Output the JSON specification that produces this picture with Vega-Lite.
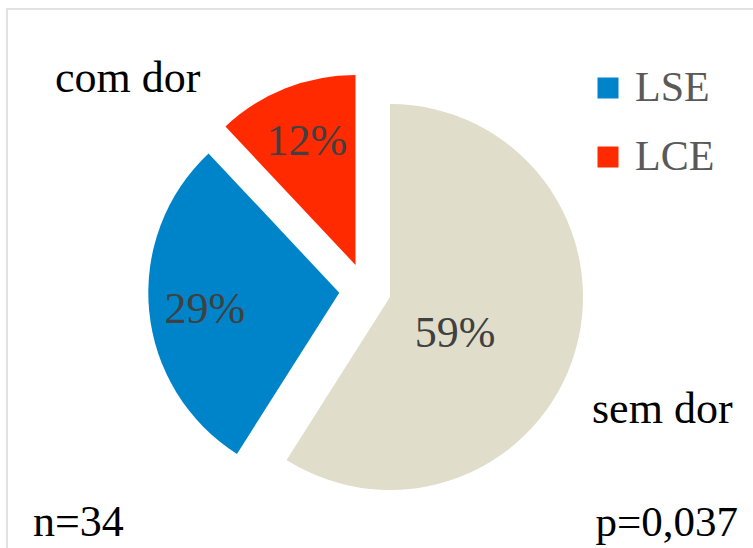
{
  "$schema": "https://vega.github.io/schema/vega-lite/v6.json",
  "width": 766,
  "height": 576,
  "autosize": {"type": "none"},
  "padding": {"left": 7, "top": 9, "right": 0, "bottom": 0},
  "background": "white",
  "view": {"stroke": "#d9d9d9", "strokeWidth": 1.5},
  "config": {
    "view": {"stroke": "#d9d9d9", "strokeWidth": 1.5},
    "font": "Liberation Serif"
  },
  "data": {
    "values": [
      {"cat": "sem dor", "value": 0.59, "ord": 1},
      {"cat": "LSE", "value": 0.29, "ord": 2},
      {"cat": "LCE", "value": 0.12, "ord": 3}
    ]
  },
  "transform": [
    {"stack": "value", "groupby": [], "sort": [{"field": "ord", "order": "ascending"}], "as": ["v0", "v1"]},
    {"calculate": "(datum.v0 + datum.v1) / 2", "as": "mid"}
  ],
  "layer": [
    {
      "transform": [{"filter": "datum.cat === 'sem dor'"}],
      "mark": {"type": "arc", "radius": 193},
      "encoding": {
        "theta": {"field": "v0", "type": "quantitative", "scale": {"domain": [0, 1]}},
        "theta2": {"field": "v1"},
        "color": {
          "field": "cat", "type": "nominal",
          "scale": {"domain": ["sem dor", "LSE", "LCE"], "range": ["#E0DDCB", "#0084C9", "#FF2A00"]},
          "legend": {
            "values": ["LSE", "LCE"], "title": null, "orient": "none",
            "legendX": 580, "legendY": 58,
            "symbolType": "square", "symbolSize": 441, "symbolStrokeWidth": 0,
            "labelFont": "Liberation Serif", "labelFontSize": 42, "labelColor": "#595959",
            "labelOffset": 6, "rowPadding": 27
          }
        }
      }
    },
    {
      "transform": [{"filter": "datum.cat === 'sem dor'"}],
      "mark": {"type": "text", "radius": 74, "fontSize": 44, "color": "#404040", "dx": -6, "dy": 16, "baseline": "middle"},
      "encoding": {
        "theta": {"field": "mid", "type": "quantitative"},
        "text": {"field": "value", "type": "quantitative", "format": ".0%"}
      }
    },
    {
      "transform": [{"filter": "datum.cat === 'LSE'"}],
      "mark": {"type": "arc", "radius": 191, "xOffset": -50.7, "yOffset": -4.3},
      "encoding": {
        "theta": {"field": "v0", "type": "quantitative"},
        "theta2": {"field": "v1"},
        "color": {"field": "cat", "type": "nominal"}
      }
    },
    {
      "transform": [{"filter": "datum.cat === 'LSE'"}],
      "mark": {"type": "text", "radius": 135, "fontSize": 44, "color": "#404040", "xOffset": -50.7, "yOffset": -4.3, "dy": 5, "baseline": "middle"},
      "encoding": {
        "theta": {"field": "mid", "type": "quantitative"},
        "text": {"field": "value", "type": "quantitative", "format": ".0%"}
      }
    },
    {
      "transform": [{"filter": "datum.cat === 'LCE'"}],
      "mark": {"type": "arc", "radius": 190, "xOffset": -34.5, "yOffset": -32},
      "encoding": {
        "theta": {"field": "v0", "type": "quantitative"},
        "theta2": {"field": "v1"},
        "color": {"field": "cat", "type": "nominal"}
      }
    },
    {
      "transform": [{"filter": "datum.cat === 'LCE'"}],
      "mark": {"type": "text", "radius": 132, "fontSize": 44, "color": "#404040", "xOffset": -34.5, "yOffset": -32, "baseline": "middle"},
      "encoding": {
        "theta": {"field": "mid", "type": "quantitative"},
        "text": {"field": "value", "type": "quantitative", "format": ".0%"}
      }
    },
    {
      "data": {"values": [{"t": "com dor"}]},
      "mark": {"type": "text", "x": 48, "y": 83, "align": "left", "baseline": "alphabetic", "fontSize": 44, "color": "#000000"},
      "encoding": {"text": {"field": "t"}}
    },
    {
      "data": {"values": [{"t": "sem dor"}]},
      "mark": {"type": "text", "x": 585, "y": 414, "align": "left", "baseline": "alphabetic", "fontSize": 44, "color": "#000000"},
      "encoding": {"text": {"field": "t"}}
    },
    {
      "data": {"values": [{"t": "n=34"}]},
      "mark": {"type": "text", "x": 26, "y": 527, "align": "left", "baseline": "alphabetic", "fontSize": 44, "color": "#000000"},
      "encoding": {"text": {"field": "t"}}
    },
    {
      "data": {"values": [{"t": "p=0,037"}]},
      "mark": {"type": "text", "x": 731, "y": 527, "align": "right", "baseline": "alphabetic", "fontSize": 43, "color": "#000000"},
      "encoding": {"text": {"field": "t"}}
    }
  ]
}
